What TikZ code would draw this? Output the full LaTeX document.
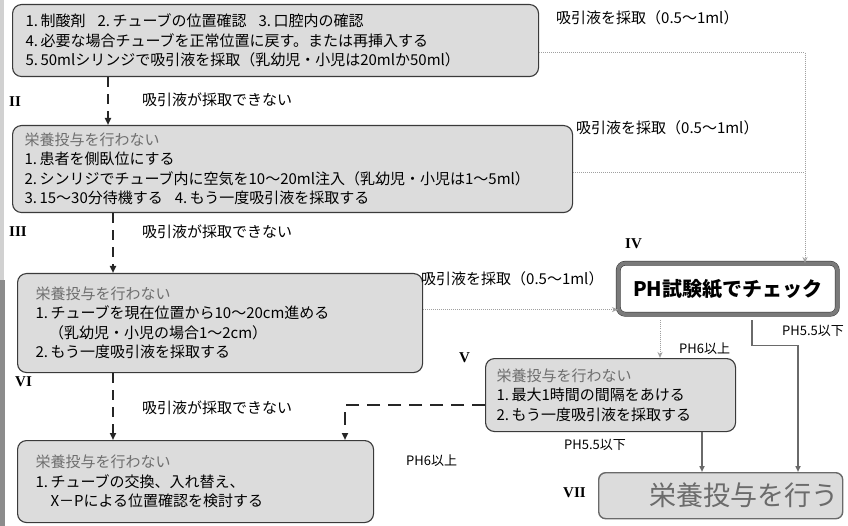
\documentclass[tikz,border=0pt]{standalone}
\usepackage{fontspec}
\setmainfont{Noto Sans CJK JP}
\newfontfamily\romanf{Liberation Serif}
\usetikzlibrary{arrows.meta,calc}
\definecolor{boxfill}{HTML}{DCDCDC}
\definecolor{boxline}{HTML}{3A3A3A}
\definecolor{headgray}{HTML}{6E6E6E}
\definecolor{dotgray}{HTML}{A0A0A0}
\definecolor{solidgray}{HTML}{6A6A6A}
\definecolor{phgray}{HTML}{7A7A7A}
\begin{document}
\begin{tikzpicture}[x=1pt,y=-1pt,
  stepbox/.style={draw=boxline, line width=1.1pt, fill=boxfill, rounded corners=9pt,
    inner ysep=0pt, align=left, font=\fontsize{15}{19.5}\selectfont, anchor=north west},
  lbl/.style={anchor=west, inner sep=0pt, font=\fontsize{15}{18}\selectfont},
  phlbl/.style={anchor=west, inner sep=0pt, font=\fontsize{13}{15}\selectfont},
  numl/.style={anchor=west, inner sep=0pt, font=\romanf\bfseries\fontsize{15}{17}\selectfont},
  dasharrow/.style={draw=black!85, line width=2.2pt, dash pattern=on 10pt off 7pt,
    -{Triangle[length=7pt,width=6pt]}},
  dasharrowh/.style={draw=black!85, line width=2.2pt, dash pattern=on 13pt off 8pt,
    -{Triangle[length=7pt,width=6pt]}},
  dotline/.style={draw=dotgray, line width=1pt, densely dotted},
  dotarrow/.style={dotline, -{Stealth[length=6pt,width=5pt,open]}},
  solidarrow/.style={draw=solidgray, line width=1.8pt, -{Triangle[length=6pt,width=5pt]}},
]
\useasboundingbox (0,0) rectangle (848,526);
\fill[white] (0,0) rectangle (848,526);
% scan edge strip
\fill[black!18] (0,0) rectangle (4,280);
\fill[black!45] (0,280) rectangle (5,526);

% boxes
\node[stepbox, minimum width=526pt, minimum height=72pt, text width=500pt, inner xsep=13pt]
  (b1) at (12,4) {1.\,制酸剤\hspace{0.8em}2.\,チューブの位置確認\hspace{0.8em}3.\,口腔内の確認\\
  4.\,必要な場合チューブを正常位置に戻す。または再挿入する\\
  5.\,50mlシリンジで吸引液を採取（乳幼児・小児は20mlか50ml）};

\node[stepbox, minimum width=560pt, minimum height=87pt, text width=536pt, inner xsep=12pt]
  (b2) at (12,125) {\textcolor{headgray}{栄養投与を行わない}\\
  1.\,患者を側臥位にする\\
  2.\,シンリジでチューブ内に空気を10～20ml注入（乳幼児・小児は1～5ml）\\
  3.\,15～30分待機する\hspace{0.8em}4.\,もう一度吸引液を採取する};

\node[stepbox, minimum width=405pt, minimum height=99pt, text width=369pt, inner xsep=18pt]
  (b3) at (17,273) {\textcolor{headgray}{栄養投与を行わない}\\
  1.\,チューブを現在位置から10～20cm進める\\
  \hspace*{0.9em}（乳幼児・小児の場合1～2cm）\\
  2.\,もう一度吸引液を採取する};

\node[anchor=north west, draw=black!80, line width=0.5pt, double=phgray, double distance=3.8pt,
  fill=white, rounded corners=7pt, minimum width=219pt, minimum height=51pt, inner sep=0pt,
  font=\bfseries\fontsize{20}{24}\selectfont]
  (ph) at (618,263) {PH試験紙でチェック};

\node[stepbox, minimum width=250pt, minimum height=73pt, text width=228pt, inner xsep=11pt]
  (b5) at (485,358) {\textcolor{headgray}{栄養投与を行わない}\\
  1.\,最大1時間の間隔をあける\\
  2.\,もう一度吸引液を採取する};

\node[stepbox, minimum width=356pt, minimum height=82pt, text width=320pt, inner xsep=18pt]
  (b6) at (17,440) {\textcolor{headgray}{栄養投与を行わない}\\
  1.\,チューブの交換、入れ替え、\\
  \hspace*{1em}X－Pによる位置確認を検討する};

\node[anchor=north west, draw=solidgray, line width=1.4pt, fill=boxfill, rounded corners=7pt,
  minimum width=244pt, minimum height=46pt, text width=236pt, inner xsep=4pt, inner ysep=0pt,
  align=right, font=\fontsize{27}{30}\selectfont, text=black!58]
  (b7) at (598,472) {栄養投与を行う};

% roman numerals
\node[numl] (n2) at (9,102) {II};
\node[numl] (n3) at (9,232) {III};
\node[numl] (n4) at (625,244) {IV};
\node[numl] (n5) at (459,358) {V};
\node[numl] (n6) at (15,382) {VI};
\node[numl] (n7) at (563,493) {VII};

% labels
\node[lbl] (l1) at (556,18) {吸引液を採取（0.5～1ml）};
\node[lbl] (l2) at (576,128) {吸引液を採取（0.5～1ml）};
\node[lbl] (l3) at (421,279) {吸引液を採取（0.5～1ml）};
\node[lbl] (l4) at (142,100) {吸引液が採取できない};
\node[lbl] (l5) at (142,232) {吸引液が採取できない};
\node[lbl] (l6) at (142,408) {吸引液が採取できない};
\node[phlbl] (l7) at (679,349) {PH6以上};
\node[phlbl] (l8) at (782,331) {PH5.5以下};
\node[phlbl] (l9) at (564,445) {PH5.5以下};
\node[phlbl] (l10) at (406,461) {PH6以上};

% column coordinates
\coordinate (c108) at (108,0);
\coordinate (c113) at (113,0);
\coordinate (c805) at (805,0);
\coordinate (c660) at (660,0);
\coordinate (c752) at (752,0);
\coordinate (c798) at (798,0);
\coordinate (c702) at (702,0);
\coordinate (c345) at (345,0);

% connectors
\draw[dasharrow] (b1.south -| c108) -- (b2.north -| c108);
\draw[dasharrow] (b2.south -| c113) -- (b3.north -| c113);
\draw[dasharrow] (b3.south -| c113) -- (b6.north -| c113);

\path ([yshift=-12pt]b1.east) coordinate (b1r);
\draw[dotarrow] (b1r) -| (ph.north -| c805);
\path ([yshift=-3.5pt]b2.east) coordinate (b2r);
\draw[dotline] (b2r) -- (b2r -| c805);
\path ([yshift=13.5pt]b3.east) coordinate (b3r);
\draw[dotarrow] (b3r) -- (b3r -| ph.west);

\draw[dotarrow, shorten <=6pt] (ph.south -| c660) -- (b5.north -| c660);
\draw[solidarrow, shorten <=6pt] (ph.south -| c752) -- ++(0,31) -| (b7.north -| c798);
\draw[solidarrow] (b5.south -| c702) -- (b7.north -| c702);

\path ([yshift=-10pt]b5.west) coordinate (b5l);
\draw[dasharrowh] (b5l) -| (b6.north -| c345);
\end{tikzpicture}
\end{document}
